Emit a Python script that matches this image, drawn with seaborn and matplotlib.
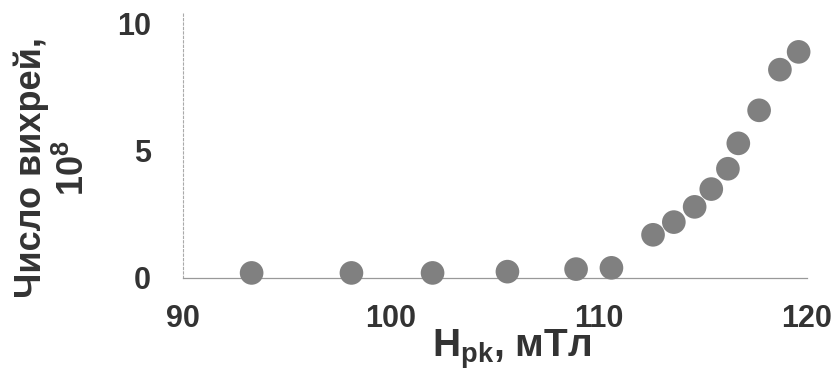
import matplotlib
matplotlib.use("Agg")
import matplotlib.pyplot as plt
import seaborn as sns
import pandas as pd

# Field values (mT) and vortex counts (x 1e8)
h_pk = [93.3, 98.1, 102.0, 105.6, 108.9, 110.6,
        112.6, 113.6, 114.6, 115.4, 116.2, 116.7, 117.7, 118.7, 119.6]
vortices = [0.2, 0.2, 0.2, 0.25, 0.35, 0.4,
            1.7, 2.2, 2.8, 3.5, 4.3, 5.3, 6.6, 8.2, 8.9]
x_ticks = [90, 100, 110, 120]
y_ticks = [0, 5, 10]

df = pd.DataFrame({"H": h_pk, "N": vortices})

sns.set_theme(style="white")
plt.rcParams['font.family'] = ['Liberation Sans', 'DejaVu Sans']
plt.rcParams['mathtext.fontset'] = 'custom'
plt.rcParams['mathtext.rm'] = 'Liberation Sans'
plt.rcParams['mathtext.bf'] = 'Liberation Sans:bold'

fig = plt.figure(figsize=(8.37, 3.77), dpi=100)
ax = fig.add_axes([0.2186, 0.2626, 0.7455, 0.7056])

sns.scatterplot(data=df, x="H", y="N", ax=ax, s=290, color="#808080",
                edgecolor="none", linewidth=0, zorder=3, clip_on=False)

ax.set_xlim(90, 120)
ax.set_ylim(0, 10.47)
ax.set_xticks(x_ticks)
ax.set_yticks(y_ticks)
ax.tick_params(axis='both', labelsize=22, colors="#999999", labelcolor="#333333",
               direction='out', length=8, width=0.8)
ax.tick_params(axis='x', length=10, pad=9)
ax.tick_params(axis='y', pad=15)
for lab in ax.get_xticklabels() + ax.get_yticklabels():
    lab.set_fontweight('bold')

for side in ['top', 'right']:
    ax.spines[side].set_visible(False)
ax.spines['bottom'].set_color("#999999")
ax.spines['bottom'].set_linewidth(0.9)
ax.spines['left'].set_color("#aaaaaa")
ax.spines['left'].set_linewidth(0.8)
ax.spines['left'].set_linestyle((0, (2, 2)))

ax.set_xlabel(r"$\mathbf{H_{pk}}$, мТл", fontsize=28, fontweight='bold',
              color="#333333", va='baseline')
ax.xaxis.set_label_coords(0.526, -0.297)
ax.set_ylabel("Число вихрей,\n" + r"$\mathbf{10^8}$", fontsize=26, fontweight='bold',
              color="#333333", linespacing=1.25, va='center', ha='center')
ax.yaxis.set_label_coords(-0.209, 0.414)

fig.savefig("out.png", dpi=100, facecolor="white")
